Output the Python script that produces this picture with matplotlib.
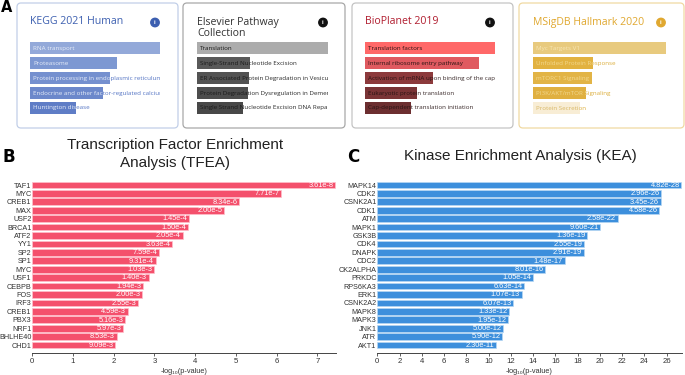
import matplotlib

matplotlib.use("Agg")

import matplotlib.pyplot as plt
import numpy as np
from matplotlib.patches import FancyBboxPatch

plt.rcParams["font.family"] = ["Liberation Sans", "DejaVu Sans"]

W, H = 685, 375

# ---- panel A: Enrichr library cards (relative bar length) ----
kegg_terms = ["RNA transport", "Proteasome",
              "Protein processing in endoplasmic reticulum",
              "Endocrine and other factor-regulated calcium reabsorption",
              "Huntington disease"]
kegg_scores = [1.00, 0.67, 0.615, 0.56, 0.35]

elsevier_terms = ["Translation", "Single-Strand Nucleotide Excision",
                  "ER Associated Protein Degradation in Vesicular Transport",
                  "Protein Degradation Dysregulation in Dementia",
                  "Single Strand Nucleotide Excision DNA Repair"]
elsevier_scores = [1.00, 0.405, 0.40, 0.39, 0.35]

bioplanet_terms = ["Translation factors", "Internal ribosome entry pathway",
                   "Activation of mRNA upon binding of the cap",
                   "Eukaryotic protein translation",
                   "Cap-dependent translation initiation"]
bioplanet_scores = [1.00, 0.88, 0.52, 0.40, 0.355]

msigdb_terms = ["Myc Targets V1", "Unfolded Protein Response",
                "mTORC1 Signaling", "PI3K/AKT/mTOR Signaling",
                "Protein Secretion"]
msigdb_scores = [1.00, 0.45, 0.44, 0.40, 0.355]

# ---- panel B: TFEA ----
tf_names = ["TAF1", "MYC", "CREB1", "MAX", "USF2", "BRCA1", "ATF2", "YY1",
            "SP2", "SP1", "MYC", "USF1", "CEBPB", "FOS", "IRF3", "CREB1",
            "PBX3", "NRF1", "BHLHE40", "CHD1"]
tf_pvals = [3.61e-8, 7.71e-7, 8.34e-6, 2.00e-5, 1.45e-4, 1.50e-4, 2.05e-4,
            3.63e-4, 7.59e-4, 9.31e-4, 1.03e-3, 1.40e-3, 1.94e-3, 2.00e-3,
            2.55e-3, 4.59e-3, 5.16e-3, 5.97e-3, 8.53e-3, 9.09e-3]
tf_pval_labels = ["3.61e-8", "7.71e-7", "8.34e-6", "2.00e-5", "1.45e-4",
                  "1.50e-4", "2.05e-4", "3.63e-4", "7.59e-4", "9.31e-4",
                  "1.03e-3", "1.40e-3", "1.94e-3", "2.00e-3", "2.55e-3",
                  "4.59e-3", "5.16e-3", "5.97e-3", "8.53e-3", "9.09e-3"]
tf_xticks = [0, 1, 2, 3, 4, 5, 6, 7]

# ---- panel C: KEA ----
kin_names = ["MAPK14", "CDK2", "CSNK2A1", "CDK1", "ATM", "MAPK1", "GSK3B",
             "CDK4", "DNAPK", "CDC2", "CK2ALPHA", "PRKDC", "RPS6KA3", "ERK1",
             "CSNK2A2", "MAPK8", "MAPK3", "JNK1", "ATR", "AKT1"]
kin_pvals = [4.82e-28, 2.96e-26, 3.45e-26, 4.58e-26, 2.58e-22, 9.60e-21,
             1.36e-19, 2.55e-19, 2.91e-19, 1.48e-17, 8.01e-16, 1.05e-14,
             6.63e-14, 1.07e-13, 6.07e-13, 1.33e-12, 1.95e-12, 5.00e-12,
             5.90e-12, 2.30e-11]
kin_pval_labels = ["4.82e-28", "2.96e-26", "3.45e-26", "4.58e-26", "2.58e-22",
                   "9.60e-21", "1.36e-19", "2.55e-19", "2.91e-19", "1.48e-17",
                   "8.01e-16", "1.05e-14", "6.63e-14", "1.07e-13", "6.07e-13",
                   "1.33e-12", "1.95e-12", "5.00e-12", "5.90e-12", "2.30e-11"]
kin_xticks = [0, 2, 4, 6, 8, 10, 12, 14, 16, 18, 20, 22, 24, 26]


def px_axes(fig, x0, y0, x1, y1):
    """Axes placed by pixel box (top-left origin)."""
    return fig.add_axes([x0 / W, 1 - y1 / H, (x1 - x0) / W, (y1 - y0) / H])


def draw_card(fig, bg, box, bar_x, title, title_color, title_lines, icon_color,
              terms, scores, bar_colors, text_out, text_in, border):
    x0, x1 = box
    r = 4
    bg.add_patch(FancyBboxPatch((x0 + r, 3 + r), x1 - x0 - 2 * r, 125 - 2 * r,
                                boxstyle=f"round,pad={r}", fc="white",
                                ec=border, lw=0.9))
    if title_lines == 1:
        bg.text(bar_x[0], 22, title, color=title_color, fontsize=7.6,
                family="Open Sans", va="center", ha="left")
    else:
        bg.text(bar_x[0], 16.5, title, color=title_color, fontsize=7.6,
                family="Open Sans", va="top", ha="left", linespacing=1.05)
    bg.text(bar_x[1] - 5, 22.5, "i", color="white", fontsize=4.4,
            fontweight="bold", ha="center", va="center",
            bbox=dict(boxstyle="circle,pad=0.28", fc=icon_color, ec=icon_color))

    ax = px_axes(fig, bar_x[0], 40.5, bar_x[1], 115.5)
    ax.set_xlim(0, 1)
    ax.set_ylim(4.5, -0.5)
    ax.axis("off")
    y = np.arange(len(terms))
    if isinstance(text_in, str):
        text_in = [text_in] * len(terms)
    # text outside the bar, then the bar, then text clipped to the bar
    for i, term in enumerate(terms):
        ax.text(0.025, i, term, color=text_out, fontsize=4.5, family="Open Sans",
                va="center", ha="left", zorder=1, clip_on=True)
    bars = ax.barh(y, scores, height=0.77, color=bar_colors, zorder=2)
    for i, (term, bar) in enumerate(zip(terms, bars)):
        t = ax.text(0.025, i, term, color=text_in[i], fontsize=4.5,
                    family="Open Sans", va="center", ha="left", zorder=3,
                    clip_on=True)
        t.set_clip_path(bar)


def draw_enrichment(fig, rect, names, pvals, labels, xticks, xmax, color, edge):
    ax = px_axes(fig, *rect)
    vals = -np.log10(np.array(pvals))
    y = np.arange(len(names))
    ax.barh(y, vals, height=0.8, color=color, edgecolor=edge, linewidth=0.5)
    for yi, v, lab in zip(y, vals, labels):
        ax.annotate(lab, xy=(v, yi), xytext=(-1.2, -0.2), textcoords="offset points",
                    ha="right", va="center", color="white", fontsize=5.3)
    ax.set_xlim(0, xmax)
    ax.set_ylim(len(names) - 1 + 0.95, -0.475)
    ax.set_yticks(y)
    ax.set_yticklabels(names, fontsize=5.2, color="#333333")
    ax.tick_params(axis="y", length=0, pad=0.6)
    ax.set_xticks(xticks)
    ax.tick_params(axis="x", length=2.5, width=0.6, color="#444444",
                   labelsize=5.6, labelcolor="#333333", pad=0.8)
    for side in ("top", "right", "left"):
        ax.spines[side].set_visible(False)
    ax.spines["bottom"].set_color("#444444")
    ax.spines["bottom"].set_linewidth(0.7)
    ax.set_xlabel("-log\u2081\u2080(p-value)", fontsize=5.3, color="#333333",
                  labelpad=2.5)
    return ax


def main() -> int:
    fig = plt.figure(figsize=(W / 100, H / 100), dpi=100)
    bg = fig.add_axes([0, 0, 1, 1])
    bg.set_xlim(0, W)
    bg.set_ylim(H, 0)
    bg.axis("off")

    draw_card(fig, bg, (17, 178), (30, 160), "KEGG 2021 Human", "#3c5fb0", 1,
              "#3c5fb0", kegg_terms, kegg_scores,
              ["#93a9d9", "#7d98d2", "#7590cf", "#6c88cb", "#5f7dc6"],
              "#5575c4", "#e6ecf8", "#c2cfe8")
    draw_card(fig, bg, (183, 345), (197, 328), "Elsevier Pathway\nCollection",
              "#333333", 2, "#111111", elsevier_terms, elsevier_scores,
              ["#acacac", "#595959", "#535353", "#4d4d4d", "#484848"],
              "#2a2a2a", "#1a1a1a", "#a8a8a8")
    draw_card(fig, bg, (352, 513), (365, 495), "BioPlanet 2019", "#b01c2e", 1,
              "#111111", bioplanet_terms, bioplanet_scores,
              ["#ff6868", "#e05a60", "#8c3a3c", "#7a3436", "#6c2e30"],
              "#3a2a2a", "#2a1414", "#c4c4c4")
    draw_card(fig, bg, (519, 684), (533, 666), "MSigDB Hallmark 2020", "#e0a830", 1,
              "#e0a830", msigdb_terms, msigdb_scores,
              ["#e8ca7e", "#e2b240", "#e2b446", "#e0b040", "#f8edd5"],
              "#dcae3c",
              ["#f7e6b4", "#f2d88e", "#f2d88e", "#f2d88e", "#d9b866"],
              "#f0d9a2")

    draw_enrichment(fig, (32.3, 181, 335.7, 353), tf_names, tf_pvals,
                    tf_pval_labels, tf_xticks, 7.45, "#f4506c", "#ffc0cb")
    draw_enrichment(fig, (377.3, 181, 681.7, 353), kin_names, kin_pvals,
                    kin_pval_labels, kin_xticks, 27.35, "#3d8fdc", "#b8d8f4")

    bg.text(175, 149, "Transcription Factor Enrichment", fontsize=11,
            ha="center", va="baseline", color="#222222")
    bg.text(175, 167, "Analysis (TFEA)", fontsize=11,
            ha="center", va="baseline", color="#222222")
    bg.text(520, 160, "Kinase Enrichment Analysis (KEA)", fontsize=11,
            ha="center", va="baseline", color="#222222")

    bg.text(1, 12, "A", fontsize=10.5, fontweight="bold", family="DejaVu Sans",
            va="baseline", ha="left")
    bg.text(2, 162, "B", fontsize=12, fontweight="bold", family="DejaVu Sans",
            va="baseline", ha="left")
    bg.text(347, 162, "C", fontsize=12, fontweight="bold", family="DejaVu Sans",
            va="baseline", ha="left")

    fig.savefig("out.png", dpi=100)
    return 0


if __name__ == "__main__":
    raise SystemExit(main())
